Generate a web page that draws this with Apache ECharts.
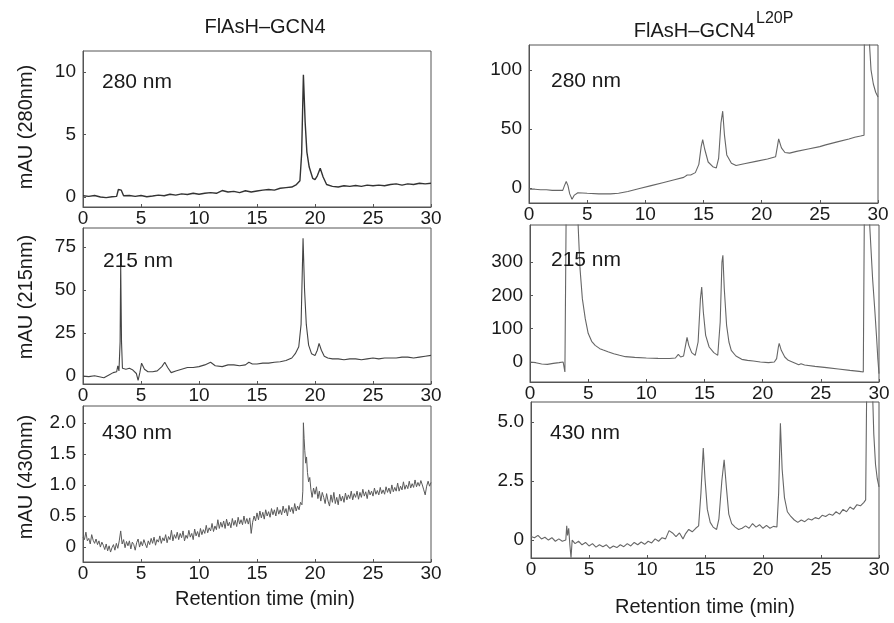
<!DOCTYPE html>
<html>
<head>
<meta charset="utf-8">
<script src="https://cdn.jsdelivr.net/npm/echarts@6/dist/echarts.min.js"></script>
<style>
html,body{margin:0;padding:0;background:#fff;}
#chart{width:894px;height:623px;}
</style>
</head>
<body>
<div id="chart"></div>
<script>
// ---------- DATA (retention time in min, absorbance in mAU) ----------
const columnTitles = ["FlAsH\u2013GCN4", "FlAsH\u2013GCN4", "L20P"];
const wavelengthLabels = ["280 nm", "215 nm", "430 nm"];
const yAxisNames = ["mAU (280nm)", "mAU (215nm)", "mAU (430nm)"];
const xAxisName = "Retention time (min)";
const xTicks = [0, 5, 10, 15, 20, 25, 30];

const ticks280L = [0, 5, 10];
const ticks215L = [0, 25, 50, 75];
const ticks430L = [0, 0.5, 1.0, 1.5, 2.0];
const ticks280R = [0, 50, 100];
const ticks215R = [0, 100, 200, 300];
const ticks430R = [0, 2.5, 5.0];

// FlAsH-GCN4, 280 nm
const trace280L = [[0,0.1],[0.5,0.05],[1,0.12],[1.5,0.0],[2,-0.05],[2.5,0.02],[2.9,0.05],[3.05,0.6],[3.3,0.55],[3.5,0.1],[4,0.12],[4.5,0.05],[5,0.12],[5.5,0.02],[6,0.08],[6.5,0.15],[7,0.1],[7.5,0.22],[8,0.15],[8.5,0.25],[9,0.2],[9.5,0.3],[10,0.22],[10.5,0.3],[11,0.35],[11.5,0.3],[12,0.52],[12.5,0.4],[13,0.45],[13.5,0.35],[14,0.5],[14.5,0.4],[15,0.48],[15.5,0.55],[16,0.6],[16.5,0.55],[17,0.7],[17.5,0.75],[18,0.8],[18.4,1.0],[18.7,1.3],[18.85,3.5],[19.0,9.8],[19.15,6.0],[19.3,3.6],[19.5,2.4],[19.8,1.5],[20.0,1.4],[20.2,1.7],[20.45,2.3],[20.7,1.6],[21.0,1.0],[21.5,0.85],[22,0.8],[22.5,0.9],[23,0.85],[23.5,0.92],[24,0.85],[24.5,0.95],[25,0.9],[25.5,0.95],[26,0.9],[26.5,1.0],[27,1.05],[27.5,0.95],[28,1.05],[28.5,1.0],[29,1.1],[29.5,1.05],[30,1.1]];

// FlAsH-GCN4, 215 nm
const trace215L = [[0,0],[0.5,-0.3],[1,0.2],[1.5,-0.5],[1.8,-1.0],[2.2,0.5],[2.6,2.0],[2.9,2.5],[3.0,6],[3.1,3],[3.2,20],[3.25,65],[3.32,20],[3.4,4.5],[3.7,4],[4.0,4.5],[4.3,3.5],[4.6,1.5],[4.75,-2.5],[4.9,2],[5.05,7.5],[5.3,4],[5.6,2.5],[6.0,2.5],[6.4,3],[6.8,5.5],[7.05,8],[7.3,5],[7.6,2],[8.0,3],[8.5,4],[9,5],[9.5,5],[10,5.5],[10.5,6.5],[11,8],[11.4,6],[12,5.5],[12.5,6.5],[13,6.5],[13.5,6],[14,6.5],[14.3,8],[14.6,7],[15,7],[15.5,7.5],[16,7.5],[16.5,8],[17,8.3],[17.5,9],[18,10.5],[18.3,13],[18.6,17],[18.8,30],[18.97,80],[19.1,50],[19.25,30],[19.45,18],[19.7,13],[20.0,12],[20.2,15],[20.35,19],[20.55,15],[20.8,11.5],[21.1,10.5],[21.5,10],[22,10],[22.5,9.5],[23,10],[23.5,10],[24,9.5],[24.5,10],[25,10.5],[25.5,10],[26,10.5],[26.5,10.5],[27,10.5],[27.5,11],[28,11],[28.5,10.5],[29,11],[29.5,11.5],[30,12]];

// FlAsH-GCN4, 430 nm (noisy trace, read point by point)
const trace430L = [[0,0.16],[0.125,0.12],[0.25,0.24],[0.375,0.10],[0.5,0.14],[0.625,0.05],[0.75,0.2],[0.875,0.11],[1.0,0.06],[1.125,0.13],[1.25,0.04],[1.375,0.1],[1.5,0.0],[1.625,0.08],[1.75,0.03],[1.875,-0.04],[2.0,0.05],[2.125,-0.06],[2.25,0.02],[2.375,-0.08],[2.5,-0.01],
[2.625,0.04],[2.75,-0.05],[2.875,0.06],[3.0,-0.02],[3.125,0.1],[3.25,0.26],[3.375,0.05],[3.5,0.12],[3.625,-0.01],[3.75,0.09],[3.875,0.02],[4.0,0.1],[4.125,-0.03],[4.25,0.08],[4.375,0.04],[4.5,-0.05],[4.625,0.07],[4.75,0.13],[4.875,0.0],[5.0,0.09],
[5.125,0.02],[5.25,0.12],[5.375,0.05],[5.5,-0.01],[5.625,0.1],[5.75,0.04],[5.875,0.14],[6.0,0.06],[6.125,0.16],[6.25,0.03],[6.375,0.12],[6.5,0.08],[6.625,0.18],[6.75,0.06],[6.875,0.15],[7.0,0.1],[7.125,0.2],[7.25,0.07],[7.375,0.17],[7.5,0.12],[7.625,0.27],[7.75,0.1],[7.875,0.2],[8.0,0.14],
[8.125,0.24],[8.25,0.12],[8.375,0.22],[8.5,0.15],[8.625,0.26],[8.75,0.1],[8.875,0.19],[9.0,0.14],[9.125,0.27],[9.25,0.16],[9.375,0.22],[9.5,0.12],[9.625,0.29],[9.75,0.18],[9.875,0.25],[10.0,0.16],[10.125,0.3],[10.25,0.2],[10.375,0.28],[10.5,0.22],[10.625,0.35],[10.75,0.23],[10.875,0.31],[11.0,0.26],
[11.125,0.38],[11.25,0.25],[11.375,0.34],[11.5,0.28],[11.625,0.44],[11.75,0.3],[11.875,0.4],[12.0,0.32],[12.125,0.42],[12.25,0.3],[12.375,0.45],[12.5,0.34],[12.625,0.4],[12.75,0.31],[12.875,0.46],[13.0,0.35],[13.125,0.43],[13.25,0.33],[13.375,0.48],[13.5,0.37],[13.625,0.44],[13.75,0.36],[13.875,0.5],[14.0,0.38],
[14.125,0.46],[14.25,0.37],[14.375,0.47],[14.5,0.22],[14.625,0.4],[14.75,0.5],[14.875,0.42],[15.0,0.55],[15.125,0.44],[15.25,0.58],[15.375,0.47],[15.5,0.56],[15.625,0.45],[15.75,0.6],[15.875,0.5],[16.0,0.57],[16.125,0.48],[16.25,0.62],[16.375,0.52],[16.5,0.6],[16.625,0.5],[16.75,0.64],[16.875,0.53],[17.0,0.6],
[17.125,0.52],[17.25,0.66],[17.375,0.55],[17.5,0.62],[17.625,0.5],[17.75,0.67],[17.875,0.57],[18.0,0.64],[18.125,0.54],[18.25,0.7],[18.375,0.58],[18.5,0.66],[18.625,0.6],[18.75,0.72],[18.875,0.68],[18.95,0.9],[19.0,2.0],[19.06,1.75],[19.12,1.55],[19.2,1.35],[19.27,1.45],[19.35,1.2],[19.45,1.05],[19.55,1.12],[19.65,0.92],[19.75,0.8],
[19.875,0.95],[20.0,0.85],[20.125,0.97],[20.25,0.78],[20.375,0.9],[20.5,0.74],[20.625,0.88],[20.75,0.8],[20.875,0.7],[21.0,0.86],[21.125,0.74],[21.25,0.66],[21.375,0.84],[21.5,0.72],[21.625,0.88],[21.75,0.7],[21.875,0.8],[22.0,0.68],[22.125,0.85],[22.25,0.74],[22.375,0.82],[22.5,0.72],[22.625,0.87],[22.75,0.76],[22.875,0.84],[23.0,0.78],
[23.125,0.9],[23.25,0.76],[23.375,0.86],[23.5,0.8],[23.625,0.9],[23.75,0.77],[23.875,0.88],[24.0,0.8],[24.125,0.93],[24.25,0.82],[24.375,0.89],[24.5,0.78],[24.625,0.92],[24.75,0.84],[24.875,0.9],[25.0,0.82],[25.125,0.95],[25.25,0.85],[25.375,0.91],[25.5,0.84],[25.625,0.96],[25.75,0.86],[25.875,0.92],[26.0,0.85],
[26.125,0.97],[26.25,0.88],[26.375,0.95],[26.5,0.86],[26.625,1.0],[26.75,0.89],[26.875,0.96],[27.0,0.9],[27.125,1.03],[27.25,0.9],[27.375,0.98],[27.5,0.92],[27.625,1.05],[27.75,0.93],[27.875,1.0],[28.0,0.94],[28.125,1.06],[28.25,0.95],[28.375,1.02],[28.5,0.96],[28.625,1.08],[28.75,0.97],[28.875,1.04],[29.0,0.98],
[29.125,1.07],[29.25,1.0],[29.375,0.92],[29.5,0.84],[29.625,0.98],[29.75,1.06],[29.875,0.98],[30.0,1.04]];

// FlAsH-GCN4 L20P, 280 nm
const trace280R = [[0,-1],[0.5,-1],[1,-1.5],[1.5,-1.5],[2,-2],[2.5,-2],[2.9,-2],[3.05,2],[3.2,5.5],[3.35,2],[3.5,-5],[3.7,-9.5],[3.9,-6],[4.2,-4],[5,-4.5],[6,-5],[7,-5],[7.7,-4.5],[8.5,-3],[9.5,-0.5],[10.5,2],[11.5,4.5],[12.5,7],[13.3,9],[13.6,11],[13.9,11],[14.3,13],[14.6,20],[14.8,35],[14.93,41],[15.1,33],[15.4,22],[15.8,18],[16.1,17],[16.3,25],[16.5,55],[16.65,65],[16.8,45],[17.0,28],[17.4,21],[17.8,19],[18.5,20.5],[19.5,22.5],[20.5,24.5],[21.2,26.5],[21.35,35],[21.46,41.5],[21.7,34],[22.0,30],[22.4,29.5],[23,31],[24,33],[25,35],[25.5,36.5],[26.5,39],[27.5,41.5],[28,43],[28.5,44],[28.8,44.7],[28.85,200],[29.2,200],[29.25,125],[29.4,100],[29.6,88],[29.8,81],[30,77]];

// FlAsH-GCN4 L20P, 215 nm
const trace215R = [[0,0],[0.5,-2],[1,-6],[1.5,-7],[2,-4],[2.5,-2],[2.85,0],[3.0,-30],[3.07,-34],[3.12,500],[4.05,500],[4.15,400],[4.3,280],[4.5,190],[4.75,130],[5.0,86],[5.3,62],[5.6,50],[6.0,40],[6.3,36],[6.7,31],[7.2,25],[7.7,20],[8.2,16],[9,14],[10,12],[11,11],[12,10.5],[12.5,12],[12.75,23],[12.95,15],[13.2,18],[13.4,55],[13.5,74],[13.65,50],[13.9,28],[14.2,20],[14.45,60],[14.65,190],[14.76,225],[14.9,150],[15.1,80],[15.4,45],[15.8,28],[16.14,20],[16.35,120],[16.5,300],[16.58,320],[16.7,220],[16.9,110],[17.1,60],[17.3,35],[17.7,18],[18.2,8],[18.7,5],[19.2,3],[19.8,0],[20.5,-2],[21.0,0],[21.2,10],[21.35,45],[21.42,56],[21.6,35],[21.9,15],[22.2,5],[22.7,-2],[23.1,-8],[23.3,-5],[23.6,-9],[24.5,-13],[25.5,-17],[26.5,-21],[27.5,-25],[28.3,-28],[28.65,-30],[28.75,500],[29.1,500],[29.2,411],[29.45,250],[29.65,150],[29.8,70],[29.9,10],[30,-35]];

// FlAsH-GCN4 L20P, 430 nm
const trace430R = [[0,0.15],[0.3,0.1],[0.6,0.2],[0.9,0.05],[1.2,0.12],[1.5,0.0],[1.8,0.1],[2.1,-0.05],[2.4,0.05],[2.7,-0.05],[3.0,0.0],[3.08,0.6],[3.15,0.2],[3.25,0.5],[3.35,-0.2],[3.45,-0.75],[3.55,0.0],[3.8,-0.15],[4.1,-0.05],[4.4,-0.2],[4.7,-0.1],[5.0,-0.25],[5.3,-0.15],[5.6,-0.3],[5.9,-0.2],[6.2,-0.28],[6.5,-0.2],[6.8,-0.35],[7.1,-0.25],[7.4,-0.32],[7.7,-0.2],[8.0,-0.28],[8.3,-0.15],[8.6,-0.25],[8.9,-0.1],[9.2,-0.2],[9.5,-0.08],[9.8,-0.18],[10.1,-0.05],[10.4,-0.12],[10.7,0.05],[11.0,-0.05],[11.3,0.1],[11.6,0.05],[11.9,0.4],[12.2,0.3],[12.5,0.15],[12.8,0.3],[13.1,0.05],[13.3,0.25],[13.6,0.45],[13.9,0.35],[14.2,0.5],[14.45,0.6],[14.65,2.0],[14.85,3.9],[15.0,2.6],[15.2,1.3],[15.45,0.75],[15.7,0.55],[16.0,0.45],[16.2,0.9],[16.45,2.5],[16.65,3.4],[16.85,2.2],[17.05,1.1],[17.3,0.7],[17.6,0.55],[17.9,0.45],[18.2,0.5],[18.5,0.6],[18.8,0.5],[19.1,0.7],[19.4,0.55],[19.7,0.65],[20.0,0.5],[20.3,0.62],[20.6,0.5],[20.9,0.58],[21.2,0.55],[21.35,2.0],[21.5,4.95],[21.65,3.0],[21.85,1.8],[22.1,1.2],[22.4,1.0],[22.7,0.85],[23.0,0.75],[23.3,0.85],[23.6,0.78],[23.9,0.9],[24.2,0.85],[24.5,0.95],[24.8,0.9],[25.1,1.05],[25.4,1.0],[25.7,1.1],[26.0,1.05],[26.3,1.2],[26.6,1.1],[26.9,1.3],[27.2,1.2],[27.5,1.4],[27.8,1.3],[28.1,1.5],[28.4,1.45],[28.7,1.6],[28.85,1.7],[28.95,7],[29.4,7],[29.55,4.5],[29.7,3.2],[29.85,2.6],[30,2.25]];

// ---------- LAYOUT ----------
const FONT = "'Liberation Sans', Arial, Helvetica, sans-serif";
const TXT = '#1a1a1a';
const BOX = '#555';

const panels = [
  {grid:{left:83, top:51, width:348, height:156}, min:-0.8, max:11.7, ticks:ticks280L, data:trace280L, color:'#333', lw:1.4, dec:false, name:yAxisNames[0], namePad:[0,0,0,4], lab:wavelengthLabels[0], lx:102, ly:82},
  {grid:{left:83, top:228, width:348, height:156}, min:-4.6, max:86, ticks:ticks215L, data:trace215L, color:'#444', lw:1.1, dec:false, name:yAxisNames[1], namePad:[0,0,0,18], lab:wavelengthLabels[1], lx:103, ly:261},
  {grid:{left:83, top:406, width:348, height:156}, min:-0.24, max:2.27, ticks:ticks430L, data:trace430L, color:'#5a5a5a', lw:1, dec:true, name:yAxisNames[2], namePad:[0,0,0,14], lab:wavelengthLabels[2], lx:102, ly:433, xname:true, xgap:27, xpad:[0,0,0,16]},
  {grid:{left:529, top:45, width:349, height:158}, min:-12.7, max:121, ticks:ticks280R, data:trace280R, color:'#666', lw:1.1, dec:false, lab:wavelengthLabels[0], lx:551, ly:81},
  {grid:{left:530, top:225, width:349, height:157}, min:-60, max:411, ticks:ticks215R, data:trace215R, color:'#666', lw:1.1, dec:false, lab:wavelengthLabels[1], lx:551, ly:260},
  {grid:{left:531, top:402, width:348, height:156}, min:-0.76, max:5.85, ticks:ticks430R, data:trace430R, color:'#666', lw:1.1, dec:true, lab:wavelengthLabels[2], lx:550, ly:433, xname:true, xgap:39, xpad:[0,0,0,0]}
];

const grids = [], xAxes = [], yAxes = [], series = [], graphics = [];
panels.forEach((p, i) => {
  grids.push(Object.assign({show:true, borderColor:BOX, borderWidth:1, backgroundColor:'#fff'}, p.grid));
  xAxes.push({
    type:'value', gridIndex:i, min:0, max:30, interval:5,
    name: p.xname ? xAxisName : '',
    nameLocation:'middle', nameGap: p.xgap || 0,
    nameTextStyle:{fontFamily:FONT, fontSize:20, color:TXT, padding:p.xpad || 0},
    axisLine:{show:true, onZero:false, lineStyle:{color:BOX, width:1}},
    axisTick:{show:true, inside:true, length:3, lineStyle:{color:BOX}},
    axisLabel:{fontFamily:FONT, fontSize:19, color:TXT, margin:2, customValues:xTicks},
    splitLine:{show:false}
  });
  yAxes.push({
    type:'value', gridIndex:i, min:p.min, max:p.max,
    name: p.name || '', nameLocation:'middle', nameGap:47, nameRotate:90,
    nameTextStyle:{fontFamily:FONT, fontSize:20, color:TXT, padding:p.namePad || 0},
    axisLine:{show:true, onZero:false, lineStyle:{color:BOX, width:1}},
    axisTick:{show:true, inside:true, length:3, customValues:p.ticks, lineStyle:{color:BOX}},
    axisLabel:{fontFamily:FONT, fontSize:19, color:TXT, margin:7, customValues:p.ticks,
      formatter: (v) => (p.dec && v !== 0) ? v.toFixed(1) : String(v)},
    splitLine:{show:false}
  });
  series.push({
    type:'line', xAxisIndex:i, yAxisIndex:i, data:p.data,
    showSymbol:false, symbol:'none', clip:true, smooth:false,
    lineStyle:{color:p.color, width:p.lw}
  });
  graphics.push({
    type:'text', x:p.lx, y:p.ly, z:10,
    style:{text:p.lab, font:'21px ' + FONT, fill:TXT, textAlign:'left', align:'left', textVerticalAlign:'middle', verticalAlign:'middle'}
  });
});

graphics.push({type:'text', x:265, y:27, style:{text:columnTitles[0], font:'20px ' + FONT, fill:TXT, textAlign:'center', align:'center', textVerticalAlign:'middle', verticalAlign:'middle'}});
graphics.push({type:'text', x:755, y:31, style:{text:columnTitles[1], font:'20px ' + FONT, fill:TXT, textAlign:'right', align:'right', textVerticalAlign:'middle', verticalAlign:'middle'}});
graphics.push({type:'text', x:756, y:19, style:{text:columnTitles[2], font:'16px ' + FONT, fill:TXT, textAlign:'left', align:'left', textVerticalAlign:'middle', verticalAlign:'middle'}});

const chart = echarts.init(document.getElementById('chart'), null, {renderer:'canvas'});
chart.setOption({
  animation:false,
  backgroundColor:'#fff',
  grid:grids, xAxis:xAxes, yAxis:yAxes, series:series, graphic:graphics
});
</script>
</body>
</html>
